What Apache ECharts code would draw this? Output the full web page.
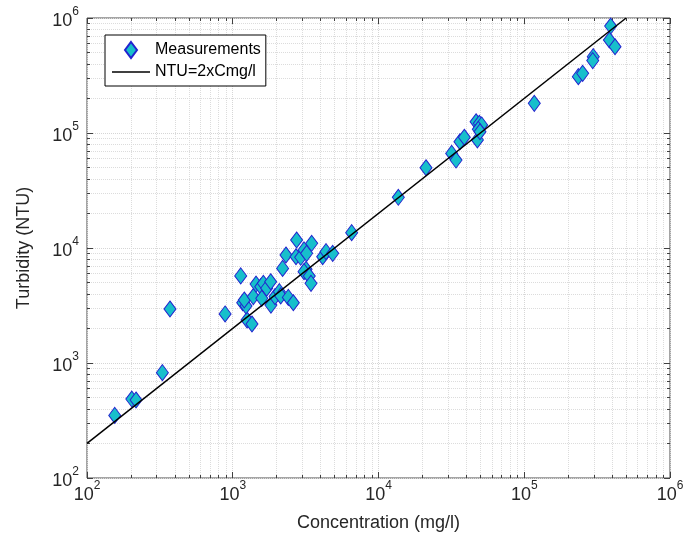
<!DOCTYPE html>
<html>
<head>
<meta charset="utf-8">
<script src="https://cdn.jsdelivr.net/npm/echarts@6/dist/echarts.min.js"></script>
<style>html,body{margin:0;padding:0;background:#fff}#c{width:697px;height:540px}</style>
</head>
<body>
<div id="c"></div>
<script>
// ---- data ----
const concentration = [155,203,217,329,371,886,1134,1253,1355,1170,1233,1200,1384,1445,1556,1622,1710,1820,1582,1828,1950,2088,2133,2406,2604,2198,2318,2742,2716,2924,3083,3214,3480,3185,3083,3350,3443,4140,4365,4850,6545,13680,21180,31780,34040,36200,38800,47700,46700,49200,51000,48400,49700,117200,235000,251600,297600,295000,391600,383800,419600];
const turbidity = [350,486,477,824,2950,2670,5720,2366,2183,3340,3130,3530,3780,4860,4600,4930,4470,5090,3650,3190,3780,4170,3830,3720,3340,6650,8690,11740,8390,8300,9620,8990,10990,6530,6230,5710,4930,8390,9290,8990,13590,27600,49900,66500,58200,83900,91900,87000,125300,121400,117500,107700,102600,181000,309000,330000,461000,426000,851000,644000,562000];
const fitX = [100, 500000];
const fitY = [200, 1000000];
const seriesNames = ['Measurements', 'NTU=2xCmg/l'];
const xTicks = [1e2, 1e3, 1e4, 1e5, 1e6];
const yTicks = [1e2, 1e3, 1e4, 1e5, 1e6];
const xTitle = 'Concentration (mg/l)';
const yTitle = 'Turbidity (NTU)';

function minorOf(ticks) {
  const out = [];
  for (let i = 0; i < ticks.length - 1; i++) {
    for (let m = 2; m <= 9; m++) out.push(ticks[i] * m);
  }
  return out;
}
const xMinor = minorOf(xTicks);
const yMinor = minorOf(yTicks);

const FONT = 'Liberation Sans, Arial, sans-serif';
const TXT = '#262626';
const rich = {
  b: { fontSize: 18, lineHeight: 24, fontFamily: FONT, color: TXT, verticalAlign: 'bottom' },
  s: { fontSize: 12, lineHeight: 12, fontFamily: FONT, color: TXT, verticalAlign: 'top' }
};
const fmt = v => '{b|10}{s|' + Math.round(Math.log10(v)) + '}';
const majorGrid = { show: true, lineStyle: { color: '#d6d6d6', type: 'dotted', width: 1 } };
const minorGrid = { show: true, lineStyle: { color: '#dcdcdc', type: 'dotted', width: 1 } };
const tickStyle = { color: '#404040', width: 1 };

function axis(dim, pos, ticks, minor, isMain, len, withLabel) {
  const lo = ticks[0], hi = ticks[ticks.length - 1];
  const a = {
    type: 'log', logBase: 10, min: lo, max: hi, position: pos,
    axisLine: { show: false },
    axisTick: { show: true, inside: true, length: len, customValues: minor || ticks, lineStyle: tickStyle },
    axisLabel: { show: !!withLabel, customValues: ticks, formatter: fmt, rich: rich, margin: dim === 'x' ? 2 : 8 },
    splitLine: isMain ? (minor ? minorGrid : majorGrid) : { show: false },
    minorTick: { show: false }, minorSplitLine: { show: false }
  };
  if (withLabel) {
    a.name = dim === 'x' ? xTitle : yTitle;
    a.nameLocation = 'middle';
    a.nameGap = dim === 'x' ? 36 : 54;
    a.nameTextStyle = { fontSize: 18, fontFamily: FONT, color: TXT };
  }
  return a;
}

const chart = echarts.init(document.getElementById('c'), null, { renderer: 'canvas' });
chart.setOption({
  animation: false,
  grid: { left: 87, right: 27, top: 18, bottom: 62, show: true, borderColor: '#4a4a4a', borderWidth: 1, backgroundColor: 'transparent' },
  xAxis: [
    axis('x', 'bottom', xTicks, null, true, 6, true),
    axis('x', 'bottom', xTicks, xMinor, true, 3, false),
    axis('x', 'top', xTicks, null, false, 6, false),
    axis('x', 'top', xTicks, xMinor, false, 3, false)
  ],
  yAxis: [
    axis('y', 'left', yTicks, null, true, 6, true),
    axis('y', 'left', yTicks, yMinor, true, 3, false),
    axis('y', 'right', yTicks, null, false, 6, false),
    axis('y', 'right', yTicks, yMinor, false, 3, false)
  ],
  legend: {
    left: 105, top: 35, orient: 'vertical',
    data: [
      { name: seriesNames[0], icon: 'path://M6,0 L12,8 L6,16 L0,8 Z' },
      { name: seriesNames[1], icon: 'path://M0,0 H38 V1.5 H0 Z', itemStyle: { color: '#000', borderWidth: 0 } }
    ],
    symbolKeepAspect: true,
    itemWidth: 38, itemHeight: 16, itemGap: 5,
    padding: [6, 5, 6, 7],
    borderColor: '#000', borderWidth: 1, backgroundColor: '#fff',
    textStyle: { fontSize: 16, fontFamily: FONT, color: '#000' }
  },
  series: [
    {
      name: seriesNames[0], type: 'scatter', xAxisIndex: 0, yAxisIndex: 0,
      symbol: 'diamond', symbolSize: [12, 16],
      itemStyle: { color: '#17BFCB', borderColor: '#2323CF', borderWidth: 1, opacity: 1 },
      data: concentration.map((c, i) => [c, turbidity[i]]), z: 3
    },
    {
      name: seriesNames[1], type: 'line', xAxisIndex: 0, yAxisIndex: 0,
      symbol: 'none', showSymbol: false, lineStyle: { color: '#000', width: 1.5 },
      itemStyle: { color: '#000' },
      data: fitX.map((x, i) => [x, fitY[i]]), z: 4
    }
  ]
});
</script>
</body>
</html>
